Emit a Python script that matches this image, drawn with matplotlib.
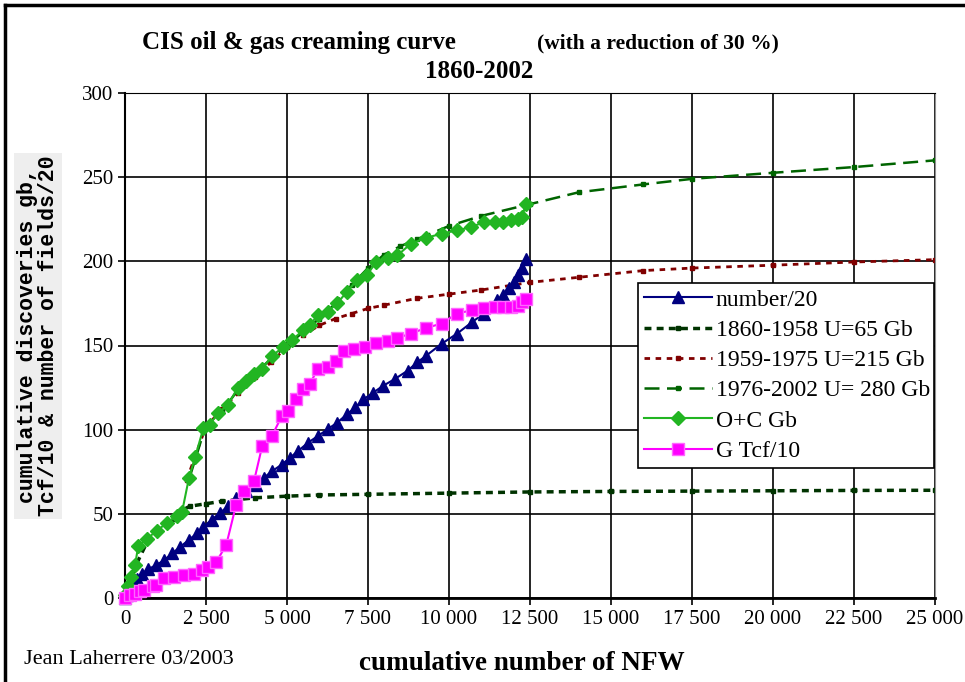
import matplotlib
matplotlib.use('Agg')
import matplotlib.pyplot as plt
from matplotlib.lines import Line2D

plt.rcParams['font.family'] = ['Liberation Serif', 'DejaVu Serif']

# number of fields / 20
num_x = [0, 60, 150, 250, 360, 510, 700, 960, 1210, 1460, 1710, 1970, 2220, 2420, 2670, 2920,
         3175, 3430, 3730, 4030, 4280, 4536, 4840, 5090, 5340, 5645, 5950, 6250, 6550, 6855,
         7110, 7360, 7660, 7960, 8320, 8720, 9020, 9300, 9770, 10245, 10720, 11073, 11490,
         11665, 11840, 12020, 12135, 12255, 12375]
num_y = [0, 2, 5, 8, 11, 14, 17, 19.5, 22.5, 26.5, 30.5, 34.5, 38.4, 42.4, 46.4, 50.4,
         54.4, 59.4, 63.3, 67.3, 71.3, 75.3, 79.3, 83.3, 87.3, 92.2, 96.2, 100.2, 104.2, 109.2,
         113.2, 118, 122, 126, 130, 135, 140, 144, 151, 157, 164, 169, 177,
         180, 184, 188, 192, 196, 201.6]

# oil + condensate Gb
oc_x = [0, 100, 200, 310, 410, 670, 980, 1290, 1600, 1760, 1970, 2170, 2420, 2620, 2870, 3175,
        3480, 3730, 3980, 4234, 4536, 4890, 5140, 5494, 5700, 5950, 6250, 6550, 6850, 7170,
        7465, 7760, 8115, 8410, 8825, 9300, 9770, 10245, 10694, 11073, 11430, 11665, 11900,
        12135, 12255, 12375]
oc_y = [2, 7, 12.7, 19.6, 31, 35, 40, 44.5, 49, 51, 71, 84, 101, 103, 110, 114.5,
        125, 129, 133, 136, 144, 149, 153, 159, 162, 168, 170, 175, 182, 189,
        192, 199.6, 202, 203.6, 210.5, 214, 216.4, 218.4, 220.4, 223.3, 223.3, 223.3, 224.3,
        225.3, 226.3, 234.2]

# gas Tcf / 10
g_x = [0, 150, 300, 460, 600, 875, 960, 1210, 1510, 1815, 2117, 2370, 2570, 2820, 3125,
       3430, 3680, 3980, 4234, 4536, 4840, 5040, 5290, 5494, 5700, 5950, 6250, 6500, 6755,
       7060, 7405, 7760, 8115, 8410, 8825, 9300, 9770, 10245, 10720, 11073, 11430, 11665,
       11900, 12135, 12255, 12375]
g_y = [0, 2, 2.6, 4, 4.6, 7, 7.6, 11.6, 12.5, 13.5, 14.5, 16.5, 18.5, 21.5, 31.5,
       55.4, 63.3, 69.3, 90.2, 96.2, 108.2, 111.2, 118.1, 124.1, 127.1, 136, 137, 141, 147,
       148, 149, 151.5, 152.5, 154.5, 157.1, 160.5, 163, 169, 171, 172.3, 173, 173,
       173, 173.5, 176, 177.9]

# creaming models
m1_x = [0, 300, 700, 1000, 1500, 1750, 2000, 2500, 3000, 3500, 4000, 5000, 6000, 7500,
        10000, 12500, 15000, 17500, 20000, 22500, 25000]
m1_y = [0, 18, 34, 39, 47, 52, 54.5, 56, 57.5, 58.5, 59.5, 60.5, 61.2, 61.6,
        62.3, 63, 63.3, 63.5, 63.7, 63.9, 64]

m2_x = [1900, 2500, 3000, 3500, 4000, 4500, 5000, 5500, 6000, 6500, 7000, 7500, 8000, 9000,
        10000, 11000, 12500, 14000, 16000, 17500, 20000, 22500, 25000]
m2_y = [70, 102, 112, 122, 131, 140, 149, 156, 162, 166, 169, 172, 174, 178,
        180.5, 183, 187.5, 190.5, 194.5, 196, 197.7, 199.6, 201]

m3_x = [2000, 2500, 3000, 3500, 4000, 4500, 5000, 5500, 6000, 6500, 7000, 7500, 8000, 8500,
        9000, 10000, 11000, 12500, 14000, 16000, 17500, 20000, 22500, 25000]
m3_y = [72, 103, 111, 124, 133, 142, 150, 158, 166, 175, 186, 196, 204, 209,
        213, 221, 227, 234, 241, 245.7, 249, 252.6, 256, 260]

x_ticks = [0, 2500, 5000, 7500, 10000, 12500, 15000, 17500, 20000, 22500, 25000]
x_labels = ['0', '2 500', '5 000', '7 500', '10 000', '12 500', '15 000', '17 500',
            '20 000', '22 500', '25 000']
y_ticks = [0, 50, 100, 150, 200, 250, 300]

fig = plt.figure(figsize=(9.65, 6.82), dpi=100)
ax = fig.add_axes([125/965, 1 - 598/682, 810/965, 505/682])

ax.plot(num_x, num_y, color='#000080', marker='^', markersize=8, lw=1.5,
        label='number/20', clip_on=False, zorder=3)
ax.plot(m1_x, m1_y, color='#003300', ls=(0, (2, 1.5)), lw=2.5, marker='s', markersize=3,
        label='1860-1958 U=65 Gb', zorder=2)
ax.plot(m2_x, m2_y, color='#800000', ls=(0, (2, 2)), lw=2, marker='s', markersize=3,
        label='1959-1975 U=215 Gb', zorder=2)
ax.plot(m3_x, m3_y, color='#006400', ls=(0, (6, 3)), lw=1.8, marker='s', markersize=3,
        label='1976-2002 U= 280 Gb', zorder=2)
ax.plot(oc_x, oc_y, color='#22b522', marker='D', markersize=7, lw=1.5,
        label='O+C Gb', clip_on=False, zorder=4)
ax.plot(g_x, g_y, color='#ff00ff', marker='s', markersize=8, lw=1.5,
        markerfacecolor='#ff00ff', markeredgecolor='#ff66ff',
        label='G Tcf/10', clip_on=False, zorder=5)

ax.set_xlim(0, 25000)
ax.set_ylim(0, 300)
ax.set_xticks(x_ticks)
ax.set_xticklabels(x_labels)
ax.set_yticks(y_ticks)
ax.tick_params(labelsize=15, length=5, width=1.2, direction='out')
ax.grid(True, color='black', lw=1.2)
ax.set_axisbelow(True)
ax.spines['right'].set_color('#909090')
ax.spines['left'].set_linewidth(1.5)
ax.spines['bottom'].set_linewidth(2)

leg = ax.legend(loc='upper left', bbox_to_anchor=(0.633, 0.253, 0.366, 0.3705),
                mode='expand', fontsize=17, handlelength=2.9, handletextpad=0.15,
                borderaxespad=0, labelspacing=0.37, fancybox=False, framealpha=1,
                edgecolor='black', borderpad=0.25)
leg.get_frame().set_linewidth(1.2)
for t in leg.get_texts():
    t.set_clip_path(leg.legendPatch)

fig.text(142/965, 1 - 43/682, 'CIS oil & gas creaming curve', fontsize=18,
         fontweight='bold', va='center', ha='left')
fig.text(537/965, 1 - 43/682, '(with a reduction of 30 %)', fontsize=15.5,
         fontweight='bold', va='center', ha='left')
fig.text(479/965, 1 - 71/682, '1860-2002', fontsize=18, fontweight='bold',
         va='center', ha='center')

fig.text(38/965, 1 - 336/682, 'cumulative discoveries gb,\nTcf/10 & number of fields/20',
         family='Liberation Mono', fontweight='bold', fontsize=15.5, rotation=90,
         va='center', ha='center', linespacing=1.0,
         bbox=dict(facecolor='#eeeeee', edgecolor='none', pad=2))

fig.text(522/965, 1 - 663/682, 'cumulative number of NFW', fontsize=19.5,
         fontweight='bold', va='center', ha='center')
fig.text(24/965, 1 - 660/682, 'Jean Laherrere 03/2003', fontsize=16,
         va='center', ha='left')

# outer frame
fig.add_artist(Line2D([5/965, 5/965], [0, 1 - 5/682], color='black', lw=2.5))
fig.add_artist(Line2D([5/965, 1], [1 - 5/682, 1 - 5/682], color='black', lw=2.5))

fig.savefig('out.png', dpi=100)
